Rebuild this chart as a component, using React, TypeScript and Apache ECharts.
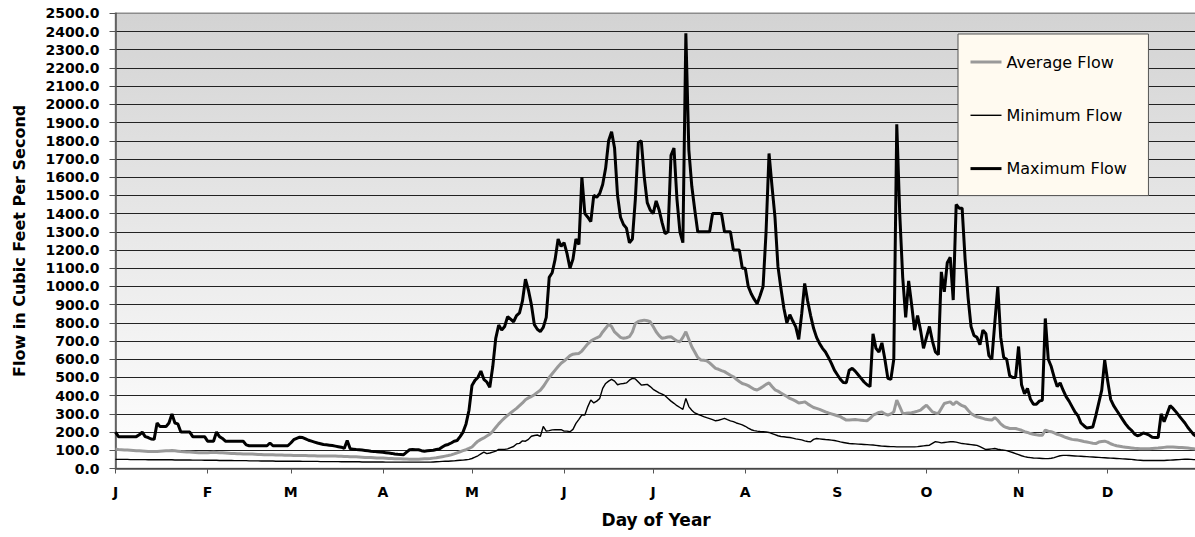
import React, { useEffect, useRef } from "react";
import * as echarts from "echarts";

const MONTH_LABELS = ["J", "F", "M", "A", "M", "J", "J", "A", "S", "O", "N", "D"];
const MONTH_START_DAYS = [0, 31, 59, 90, 120, 151, 181, 212, 243, 273, 304, 334];

// Maximum flow (cfs), one value per day, month by month
const maxJan = [200,175,175,175,175,175,175,175,185,200,175,170,162,160,250,230,230,230,250,300,250,245,200,200,200,200,175,175,175,175,175];
const maxFeb = [150,150,150,200,175,165,150,150,150,150,150,150,150,130,125,125,125,125,125,125,125,140,125,125,125,125,125,125];
const maxMar = [140,158,165,172,170,163,155,150,145,140,136,132,130,128,126,123,120,117,110,154,108,106,104,103,101,99,97,95,94,92,90];
const maxApr = [89,87,85,83,80,78,77,76,90,103,104,103,103,98,95,97,99,100,104,107,118,128,132,140,150,154,175,200,245,320];
const maxMay = [456,484,500,535,490,475,446,560,715,788,760,780,834,820,806,840,855,920,1040,980,900,790,765,752,775,830,1050,1075,1150,1260,1220];
const maxJun = [1240,1180,1100,1150,1260,1230,1600,1400,1380,1356,1500,1490,1510,1560,1650,1800,1850,1760,1500,1380,1340,1320,1240,1260,1480,1790,1800,1600,1460,1420];
const maxJul = [1400,1470,1420,1350,1290,1300,1720,1760,1480,1300,1240,2390,1750,1550,1420,1300,1300,1300,1300,1300,1400,1400,1400,1400,1300,1300,1300,1200,1200,1200,1100];
const maxAug = [1100,1000,960,930,905,950,1000,1300,1730,1550,1380,1110,990,880,800,845,810,778,709,850,1016,920,840,770,720,687,660,640,610,577,540];
const maxSep = [515,490,472,471,540,550,535,515,495,475,460,450,740,660,640,690,600,495,489,600,1890,1400,1050,830,1030,900,760,840,760,660];
const maxOct = [720,780,700,640,625,1080,970,1130,1160,925,1450,1430,1430,1150,940,780,730,720,680,760,740,620,600,800,998,720,610,600,510,500,500];
const maxNov = [670,460,410,440,380,353,353,370,375,824,600,560,500,450,470,430,395,370,340,310,290,250,235,222,225,228,290,360,430,595];
const maxDec = [480,380,345,320,295,270,245,225,210,190,180,185,195,190,183,172,170,170,300,257,300,345,330,311,290,270,250,225,205,185,175];

// Average flow (cfs)
const avgJan = [106,104,103,102,101,100,99,98,97,96,95,94,93,93,94,95,96,97,98,99,97,95,93,92,91,90,89,88,87,87,86];
const avgFeb = [86,88,89,88,87,86,85,84,83,82,81,81,80,80,80,79,78,77,77,76,75,75,75,74,74,74,73,73];
const avgMar = [73,72,72,71,71,71,70,70,70,69,69,69,68,68,68,68,67,67,66,66,65,65,64,63,62,61,60,60,59,58,57];
const avgApr = [57,56,55,55,54,53,53,52,52,51,51,51,51,52,53,54,55,57,59,62,65,68,71,75,80,86,92,98,103,110];
const avgMay = [118,135,150,160,168,178,188,205,225,245,262,278,292,305,318,330,345,360,378,388,395,405,418,430,450,475,500,520,540,560,578];
const avgJun = [590,605,620,628,630,632,645,665,685,700,710,718,725,750,770,792,780,750,735,720,715,718,724,750,797,808,812,815,812,806];
const avgJul = [780,751,730,715,718,722,724,712,700,696,720,751,710,669,640,610,596,594,592,580,565,550,545,538,532,522,512,504,490,478,467];
const avgAug = [462,455,445,435,431,440,450,462,470,450,432,425,415,405,395,385,378,370,360,362,366,355,345,335,330,325,318,311,305,300,295];
const avgSep = [290,285,275,266,267,268,269,267,265,263,262,275,293,300,308,311,300,293,300,311,375,340,302,303,305,306,310,315,321,335];
const avgOct = [348,330,311,305,302,330,357,362,366,350,366,355,345,339,320,302,292,284,280,275,270,268,266,280,265,245,232,225,220,220,220];
const avgNov = [215,210,202,198,192,188,185,183,183,211,205,202,195,188,183,177,170,165,160,158,156,152,148,145,142,139,137,145,148,150];
const avgDec = [145,136,130,125,122,119,117,115,113,111,110,109,108,108,109,110,111,112,114,116,118,118,118,117,116,115,114,112,110,108,105];

// Minimum flow (cfs)
const minJan = [50,50,50,50,50,49,49,49,49,49,49,48,48,48,48,48,48,48,48,48,47,47,47,47,47,47,46,46,46,46,45];
const minFeb = [45,45,45,45,44,44,44,44,44,43,43,43,43,43,42,42,42,42,41,41,41,41,41,40,40,40,40,40];
const minMar = [40,40,40,40,39,39,39,39,39,39,38,38,38,38,38,38,38,37,37,37,37,37,37,37,36,36,36,36,36,36,36];
const minApr = [36,35,35,35,35,35,35,35,35,35,35,35,35,35,35,35,35,36,37,38,39,40,40,41,42,44,45,46,48,50];
const minMay = [55,62,70,80,90,82,85,90,95,105,105,105,108,115,121,135,138,152,150,160,177,181,184,176,231,205,208,212,213,213,213];
const minJun = [205,205,202,215,248,270,294,294,340,376,360,370,385,440,467,480,490,480,460,465,467,470,485,495,492,475,458,460,462,450];
const minJul = [435,425,415,408,400,385,370,358,345,335,325,385,340,320,305,298,292,285,279,274,268,262,265,270,275,268,262,257,250,245,240];
const minAug = [232,222,213,208,205,203,202,201,198,192,186,180,176,174,172,170,167,163,160,157,152,148,147,160,165,163,161,159,158,156,154];
const minSep = [150,146,143,140,137,136,135,134,133,132,131,130,129,127,125,123,122,121,120,120,119,119,119,119,119,119,119,120,122,124];
const minOct = [126,128,138,147,145,141,143,145,147,147,145,141,137,135,133,131,129,127,120,112,104,106,108,110,106,103,101,98,93,88,82];
const minNov = [76,70,65,62,60,58,57,56,55,54,54,56,60,65,70,72,72,71,70,69,68,67,66,65,64,63,62,61,60,59];
const minDec = [58,57,56,55,54,53,52,51,50,48,46,45,44,44,44,44,44,44,44,44,45,46,47,48,49,50,51,51,50,49,48];

const MAXIMUM_FLOW = [...maxJan, ...maxFeb, ...maxMar, ...maxApr, ...maxMay, ...maxJun, ...maxJul, ...maxAug, ...maxSep, ...maxOct, ...maxNov, ...maxDec];
const AVERAGE_FLOW = [...avgJan, ...avgFeb, ...avgMar, ...avgApr, ...avgMay, ...avgJun, ...avgJul, ...avgAug, ...avgSep, ...avgOct, ...avgNov, ...avgDec];
const MINIMUM_FLOW = [...minJan, ...minFeb, ...minMar, ...minApr, ...minMay, ...minJun, ...minJul, ...minAug, ...minSep, ...minOct, ...minNov, ...minDec];

const DAY_CATEGORIES = AVERAGE_FLOW.map((_, i) => String(i + 1));

const FONT = "'DejaVu Sans', sans-serif";

export default function App() {
  const ref = useRef<HTMLDivElement>(null);

  useEffect(() => {
    if (!ref.current) return;
    const chart = echarts.init(ref.current, null, { renderer: "svg" });
    const monthAt = new Map<number, string>(MONTH_START_DAYS.map((d, i) => [d, MONTH_LABELS[i]]));
    const isMonthStart = (i: number) => monthAt.has(i);

    chart.setOption({
      animation: false,
      backgroundColor: "#ffffff",
      grid: {
        left: 115.5,
        right: 3.2,
        top: 13.3,
        bottom: 68.5,
        show: true,
        backgroundColor: new echarts.graphic.LinearGradient(0, 0, 0, 1, [
          { offset: 0, color: "#d3d3d3" },
          { offset: 1, color: "#ffffff" },
        ]),
        borderColor: "#8c8c8c",
        borderWidth: 1.5,
      },
      legend: {
        orient: "vertical",
        left: 958,
        top: 34,
        padding: [20, 21.5, 19, 11],
        itemGap: 37.3,
        itemWidth: 31,
        itemHeight: 14,
        backgroundColor: "#fffaf0",
        borderColor: "#555555",
        borderWidth: 1,
        selectedMode: false,
        textStyle: { fontFamily: FONT, fontSize: 16, color: "#000" },
        data: [
          { name: "Average Flow", itemStyle: { opacity: 0 }, lineStyle: { width: 3, color: "#999999" } },
          { name: "Minimum Flow", itemStyle: { opacity: 0 }, lineStyle: { width: 1.4, color: "#000000" } },
          { name: "Maximum Flow", itemStyle: { opacity: 0 }, lineStyle: { width: 3, color: "#000000" } },
        ],
      },
      xAxis: {
        type: "category",
        data: DAY_CATEGORIES,
        boundaryGap: false,
        axisLine: { show: true, lineStyle: { color: "#555", width: 1.5 } },
        axisTick: {
          show: true,
          interval: (i: number) => isMonthStart(i),
          length: 5,
          lineStyle: { color: "#555", width: 1 },
        },
        axisLabel: {
          interval: (i: number) => isMonthStart(i),
          formatter: (_v: string, i: number) => monthAt.get(i) ?? "",
          fontFamily: FONT,
          fontWeight: "bold",
          fontSize: 14,
          color: "#000",
          margin: 16,
        },
        splitLine: { show: false },
        name: "Day of Year",
        nameLocation: "middle",
        nameGap: 43,
        nameTextStyle: { fontFamily: FONT, fontWeight: "bold", fontSize: 17, color: "#000" },
      },
      yAxis: {
        type: "value",
        min: 0,
        max: 2500,
        interval: 100,
        axisLine: { show: true, lineStyle: { color: "#555", width: 1.5 } },
        axisTick: { show: true, length: 6, lineStyle: { color: "#555", width: 1 } },
        axisLabel: {
          formatter: (v: number) => v.toFixed(1),
          fontFamily: FONT,
          fontWeight: "bold",
          fontSize: 14,
          color: "#000",
          margin: 16,
        },
        splitLine: { show: true, showMaxLine: false, lineStyle: { color: "#222", width: 1 } },
        name: "Flow in Cubic Feet Per Second",
        nameLocation: "middle",
        nameGap: 88,
        nameTextStyle: { fontFamily: FONT, fontWeight: "bold", fontSize: 16, color: "#000" },
      },
      series: [
        {
          name: "Average Flow",
          type: "line",
          data: AVERAGE_FLOW,
          symbol: "none",
          lineStyle: { color: "#999999", width: 3 },
          itemStyle: { color: "#999999" },
        },
        {
          name: "Minimum Flow",
          type: "line",
          data: MINIMUM_FLOW,
          symbol: "none",
          lineStyle: { color: "#000000", width: 1.4 },
          itemStyle: { color: "#000000" },
        },
        {
          name: "Maximum Flow",
          type: "line",
          data: MAXIMUM_FLOW,
          symbol: "none",
          lineStyle: { color: "#000000", width: 3 },
          itemStyle: { color: "#000000" },
        },
      ],
    });

    return () => chart.dispose();
  }, []);

  return (
    <div
      style={{
        position: "fixed",
        left: 0,
        top: 0,
        width: 1195,
        height: 537,
        overflow: "hidden",
        background: "#ffffff",
      }}
    >
      <div ref={ref} style={{ width: 1200, height: 537 }} />
    </div>
  );
}
